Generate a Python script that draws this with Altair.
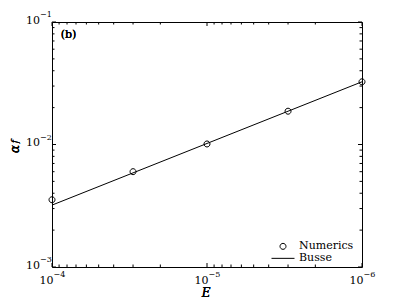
import altair as alt
import pandas as pd

# ---- data ----
E_num = [1e-4, 3e-5, 1e-5, 3e-6, 1e-6]
alpha_num = [3.54e-3, 6.0e-3, 1.01e-2, 1.87e-2, 3.25e-2]
E_busse = [1e-4, 1e-6]
alpha_busse = [3.2e-3, 3.25e-2]

x_major = [1e-4, 1e-5, 1e-6]
x_exp = ["\u22124", "\u22125", "\u22126"]
y_major = [1e-3, 1e-2, 1e-1]
y_exp = ["\u22123", "\u22122", "\u22121"]
x_minor = [k * 10.0 ** e for e in (-5, -6) for k in range(2, 10)]
y_minor = [k * 10.0 ** e for e in (-3, -2) for k in range(2, 10)]

series = ["Numerics", "Busse"]

W, H = 310, 245
FONT = "DejaVu Serif"

xs = alt.Scale(type="log", domain=[1e-6, 1e-4], reverse=True, nice=False)
ys = alt.Scale(type="log", domain=[1e-3, 1e-1], nice=False)

num_df = pd.DataFrame({"E": E_num, "a": alpha_num, "series": "Numerics"})
busse_df = pd.DataFrame({"E": E_busse, "a": alpha_busse})
xmaj_df = pd.DataFrame({"v": x_major, "exp": x_exp, "base": "10"})
ymaj_df = pd.DataFrame({"v": y_major, "exp": y_exp, "base": "10"})
xmin_df = pd.DataFrame({"v": x_minor})
ymin_df = pd.DataFrame({"v": y_minor})

X = lambda: alt.X("E:Q", scale=xs, axis=None)
Y = lambda: alt.Y("a:Q", scale=ys, axis=None)

circle_path = "M-0.26,0A0.26,0.26,0,1,1,0.26,0A0.26,0.26,0,1,1,-0.26,0Z"
line_path = "M-1,0L1,0"

busse = alt.Chart(busse_df).mark_line(color="black", strokeWidth=1).encode(x=X(), y=Y())

pts = alt.Chart(num_df).mark_point(
    filled=False, color="black", strokeWidth=1, size=529, opacity=1
).encode(
    x=X(), y=Y(),
    shape=alt.Shape(
        "series:N",
        scale=alt.Scale(domain=series, range=[circle_path, line_path]),
        legend=alt.Legend(
            title=None, orient="none", legendX=219, legendY=219,
            symbolSize=529, symbolStrokeColor="black", symbolFillColor="transparent",
            symbolStrokeWidth=1, labelFont=FONT, labelFontSize=11, labelColor="black",
            labelOffset=4, clipHeight=10.7, rowPadding=0, padding=0,
        ),
    ),
)

def yticks(df, L):
    left = alt.Chart(df).mark_rule(color="black", strokeWidth=1).encode(
        y=alt.Y("v:Q", scale=ys, axis=None), x=alt.value(0), x2=alt.value(L))
    right = alt.Chart(df).mark_rule(color="black", strokeWidth=1).encode(
        y=alt.Y("v:Q", scale=ys, axis=None), x=alt.value(W - L), x2=alt.value(W))
    return left + right

def xticks(df, L):
    bot = alt.Chart(df).mark_rule(color="black", strokeWidth=1).encode(
        x=alt.X("v:Q", scale=xs, axis=None), y=alt.value(H - L), y2=alt.value(H))
    top = alt.Chart(df).mark_rule(color="black", strokeWidth=1).encode(
        x=alt.X("v:Q", scale=xs, axis=None), y=alt.value(0), y2=alt.value(L))
    return bot + top

ticks = yticks(ymaj_df, 4) + yticks(ymin_df, 2.5) + xticks(xmaj_df, 4) + xticks(xmin_df, 2.5)

ylab10 = alt.Chart(ymaj_df).mark_text(
    font=FONT, fontSize=11, align="right", baseline="middle", color="black", dy=-1.5
).encode(y=alt.Y("v:Q", scale=ys, axis=None), x=alt.value(-12), text="base:N")
ylabexp = alt.Chart(ymaj_df).mark_text(
    font=FONT, fontSize=8, align="left", baseline="middle", color="black", dy=-7
).encode(y=alt.Y("v:Q", scale=ys, axis=None), x=alt.value(-12), text="exp:N")

xlab10 = alt.Chart(xmaj_df).mark_text(
    font=FONT, fontSize=11, align="right", baseline="middle", color="black", dx=1.5
).encode(x=alt.X("v:Q", scale=xs, axis=None), y=alt.value(H + 14), text="base:N")
xlabexp = alt.Chart(xmaj_df).mark_text(
    font=FONT, fontSize=8, align="left", baseline="middle", color="black", dx=1.5
).encode(x=alt.X("v:Q", scale=xs, axis=None), y=alt.value(H + 8), text="exp:N")

xtitle = alt.Chart(xmaj_df).mark_text(
    font=FONT, fontSize=12, fontStyle="italic", align="center", baseline="middle", color="black"
).encode(x=alt.value(W / 2 - 1), y=alt.value(H + 25.5), text=alt.value("E"))
ytitle_a = alt.Chart(xmaj_df).mark_text(
    font=FONT, fontSize=12, fontStyle="italic", align="center", baseline="middle",
    color="black", angle=270
).encode(x=alt.value(-37), y=alt.value(127), text=alt.value("\u03b1"))
ytitle_f = alt.Chart(xmaj_df).mark_text(
    font=FONT, fontSize=9, fontStyle="italic", align="center", baseline="middle",
    color="black", angle=270
).encode(x=alt.value(-37.5), y=alt.value(119.5), text=alt.value("f"))
panel = alt.Chart(xmaj_df).mark_text(
    font=FONT, fontSize=11, align="center", baseline="middle", color="black"
).encode(x=alt.value(16.5), y=alt.value(13), text=alt.value("(b)"))

chart = alt.layer(
    ticks, busse, pts, ylab10, ylabexp, xlab10, xlabexp, xtitle, ytitle_a, ytitle_f, panel
).properties(
    width=W, height=H,
    autosize=alt.AutoSizeParams(type="none"),
    padding={"left": 44, "top": 14, "right": 29, "bottom": 33},
    background="white",
).configure_view(stroke="black", strokeWidth=1)

chart.save("out.html", embed_options={"renderer": "svg", "actions": False})
